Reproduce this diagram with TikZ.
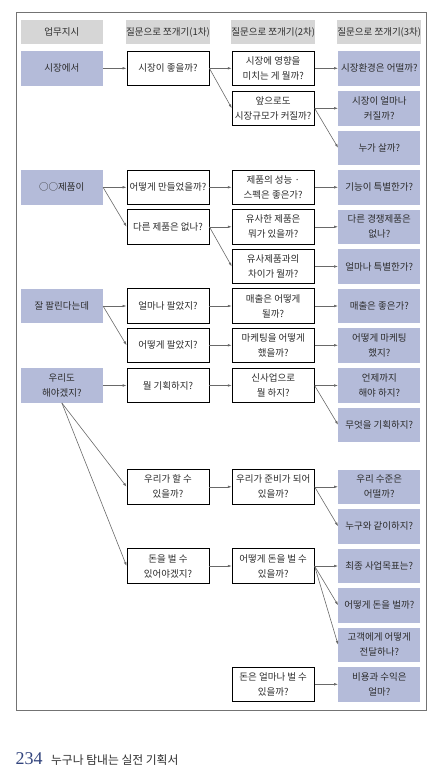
\documentclass[tikz,border=0pt]{standalone}
\usepackage{fontspec}
\setmainfont{Liberation Serif}
\newfontfamily\kr{Noto Sans CJK KR}
\usetikzlibrary{arrows.meta}
\definecolor{hdr}{RGB}{214,214,214}
\definecolor{blu}{RGB}{180,187,217}
\definecolor{txt}{RGB}{45,45,45}
\definecolor{lgray}{RGB}{105,105,105}
\definecolor{frm}{RGB}{115,115,115}
\definecolor{navy}{RGB}{50,68,125}
\begin{document}
\begin{tikzpicture}[x=1pt,y=-1pt,
  base/.style={minimum width=82pt, minimum height=34.5pt, inner sep=0pt, align=center,
    font=\kr\fontsize{9.5}{15}\selectfont, text=txt},
  blubox/.style={base, fill=blu},
  wbox/.style={base, draw=black, line width=0.8pt, fill=white},
  hbox/.style={base, fill=hdr, minimum height=24.3pt},
  conn/.style={draw=lgray, line width=0.6pt, -{Latex[length=4pt,width=2.6pt]}},
  frame/.style={draw=frm, line width=1pt}]
\useasboundingbox (0,0) rectangle (436,768);
\draw[frame] (16.3,12.3) rectangle (426.7,710.7);
% headers
\node[hbox] (h1) at (61.85,32.2) {업무지시};
\node[hbox] (h2) at (168,32.2) {질문으로 쪼개기(1차)};
\node[hbox] (h3) at (273.2,32.2) {질문으로 쪼개기(2차)};
\node[hbox] (h4) at (379.3,32.2) {질문으로 쪼개기(3차)};
% column 1
\node[blubox] (a1) at (61.85,68.3) {시장에서};
\node[blubox] (a4) at (61.85,187.3) {○○제품이};
\node[blubox] (a7) at (61.85,306) {잘 팔린다는데};
\node[blubox] (a9) at (61.85,385.5) {우리도\\해야겠지?};
% column 2
\node[wbox] (b1) at (168,68.3) {시장이 좋을까?};
\node[wbox] (b4) at (168,187.3) {어떻게 만들었을까?};
\node[wbox] (b5) at (168,226.8) {다른 제품은 없나?};
\node[wbox] (b7) at (168,306) {얼마나 팔았지?};
\node[wbox] (b8) at (168,345.3) {어떻게 팔았지?};
\node[wbox] (b9) at (168,385.5) {뭘 기획하지?};
\node[wbox] (b11) at (168,486.8) {우리가 할 수\\있을까?};
\node[wbox] (b13) at (168,566) {돈을 벌 수\\있어야겠지?};
% column 3
\node[wbox] (c1) at (273.2,68.3) {시장에 영향을\\미치는 게 뭘까?};
\node[wbox] (c2) at (273.2,108.3) {앞으로도\\시장규모가 커질까?};
\node[wbox] (c4) at (273.2,187.3) {제품의 성능 ·\\스펙은 좋은가?};
\node[wbox] (c5) at (273.2,226.8) {유사한 제품은\\뭐가 있을까?};
\node[wbox] (c6) at (273.2,266.5) {유사제품과의\\차이가 뭘까?};
\node[wbox] (c7) at (273.2,306) {매출은 어떻게\\될까?};
\node[wbox] (c8) at (273.2,345.3) {마케팅을 어떻게\\했을까?};
\node[wbox] (c9) at (273.2,385.5) {신사업으로\\뭘 하지?};
\node[wbox] (c11) at (273.2,486.8) {우리가 준비가 되어\\있을까?};
\node[wbox] (c13) at (273.2,566) {어떻게 돈을 벌 수\\있을까?};
\node[wbox] (c16) at (273.2,684.3) {돈은 얼마나 벌 수\\있을까?};
% column 4
\node[blubox] (d1) at (379.3,68.3) {시장환경은 어떨까?};
\node[blubox] (d2) at (379.3,108.3) {시장이 얼마나\\커질까?};
\node[blubox] (d3) at (379.3,147.8) {누가 살까?};
\node[blubox] (d4) at (379.3,187.3) {기능이 특별한가?};
\node[blubox] (d5) at (379.3,226.8) {다른 경쟁제품은\\없나?};
\node[blubox] (d6) at (379.3,266.5) {얼마나 특별한가?};
\node[blubox] (d7) at (379.3,306) {매출은 좋은가?};
\node[blubox] (d8) at (379.3,345.3) {어떻게 마케팅\\했지?};
\node[blubox] (d9) at (379.3,385.5) {언제까지\\해야 하지?};
\node[blubox] (d10) at (379.3,424.8) {무엇을 기획하지?};
\node[blubox] (d11) at (379.3,486.8) {우리 수준은\\어떨까?};
\node[blubox] (d12) at (379.3,526.3) {누구와 같이하지?};
\node[blubox] (d13) at (379.3,566) {최종 사업목표는?};
\node[blubox] (d14) at (379.3,605.3) {어떻게 돈을 벌까?};
\node[blubox] (d15) at (379.3,644.8) {고객에게 어떻게\\전달하나?};
\node[blubox] (d16) at (379.3,684.3) {비용과 수익은\\얼마?};
% connectors
\foreach \s/\t in {a1/b1,b1/c1,b1/c2,c1/d1,c2/d2,c2/d3,
  a4/b4,a4/b5,b4/c4,b5/c5,b5/c6,c4/d4,c5/d5,c6/d6,
  a7/b7,a7/b8,b7/c7,b8/c8,c7/d7,c8/d8,
  a9/b9,b9/c9,c9/d9,c9/d10,b11/c11,c11/d11,c11/d12,
  b13/c13,c13/d13,c13/d14,c13/d15,c16/d16}
  \draw[conn] (\s.east) -- (\t.west);
\draw[conn] (a9.south) -- (b11.west);
\draw[conn] (a9.south) -- (b13.west);
% footer
\node[anchor=base west, inner sep=0pt, font=\fontsize{18}{18}\selectfont, text=navy] (pg) at (15.5,764) {234};
\node[anchor=base west, inner sep=0pt, font=\kr\fontsize{11.8}{12}\selectfont, text=txt] (bt) at ([xshift=8pt]pg.base east) {누구나 탐내는 실전 기획서};
\end{tikzpicture}
\end{document}
